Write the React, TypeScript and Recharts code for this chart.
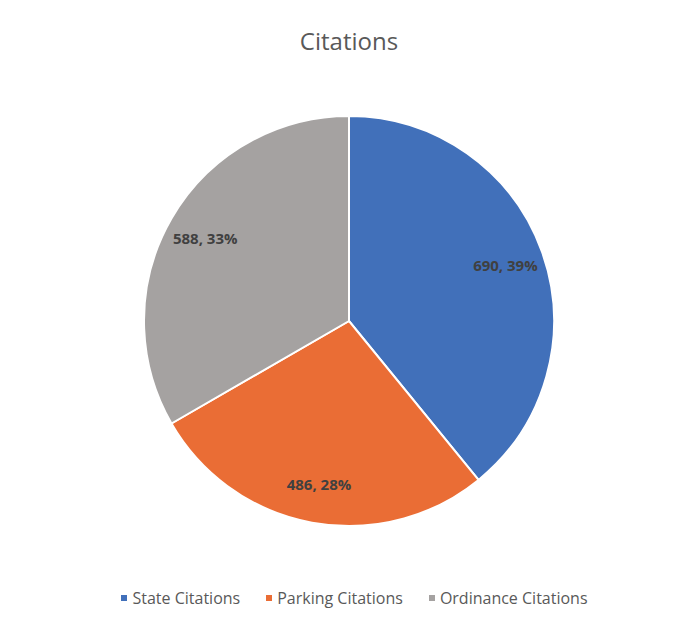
import { PieChart, Pie, Cell, Legend } from 'recharts';

const categories = ['State Citations', 'Parking Citations', 'Ordinance Citations'];
const values = [690, 486, 588];
const colors = ['#4170BA', '#EA6D35', '#A5A2A1'];

const data = categories.map((name, i) => ({ name, value: values[i] }));
const total = values.reduce((a, b) => a + b, 0);

const RADIAN = Math.PI / 180;

const renderLabel = (props: any) => {
  const { cx, cy, midAngle, outerRadius, value } = props;
  const r = outerRadius * 0.81;
  const x = cx + r * Math.cos(-midAngle * RADIAN);
  const y = cy + r * Math.sin(-midAngle * RADIAN);
  const pct = Math.round((value / total) * 100);
  return (
    <text
      x={x}
      y={y}
      textAnchor="middle"
      dominantBaseline="central"
      fill="#404040"
      fontSize={15}
      fontWeight="bold"
      fontFamily="'Open Sans', sans-serif"
    >
      {`${value}, ${pct}%`}
    </text>
  );
};

const renderLegend = () => (
  <div
    style={{
      display: 'flex',
      justifyContent: 'center',
      gap: 26,
      paddingLeft: 24,
      fontFamily: "'Open Sans', sans-serif",
      fontSize: 16,
      color: '#595959',
    }}
  >
    {categories.map((c, i) => (
      <div key={c} style={{ display: 'flex', alignItems: 'center' }}>
        <span
          style={{
            display: 'inline-block',
            width: 6,
            height: 6,
            background: colors[i],
            marginRight: 5,
          }}
        />
        {c}
      </div>
    ))}
  </div>
);

const App = () => {
  return (
    <div style={{ position: 'absolute', left: 0, top: 0, width: 685, height: 619, background: '#fff' }}>
      {/* Title */}
      <div
        style={{
          position: 'absolute',
          top: 24,
          left: 0,
          width: 698,
          textAlign: 'center',
          fontFamily: "'Open Sans', sans-serif",
          fontSize: 24,
          color: '#595959',
        }}
      >
        Citations
      </div>

      <PieChart width={685} height={619} margin={{ top: 0, right: 0, bottom: 0, left: 0 }}>
        <Pie
          data={data}
          dataKey="value"
          nameKey="name"
          cx={349}
          cy={321}
          outerRadius={205}
          startAngle={90}
          endAngle={-270}
          stroke="#fff"
          strokeWidth={2}
          label={renderLabel}
          labelLine={false}
          isAnimationActive={false}
        >
          {data.map((d, i) => (
            <Cell key={d.name} fill={colors[i]} />
          ))}
        </Pie>
        <Legend
          content={renderLegend}
          verticalAlign="bottom"
          wrapperStyle={{ bottom: 10 }}
        />
      </PieChart>
    </div>
  );
};

export default App;
